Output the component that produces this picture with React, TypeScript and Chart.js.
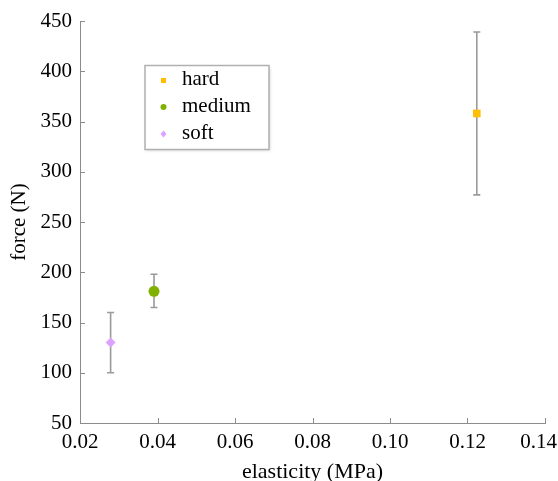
import React, { useEffect, useRef } from "react";
import { Chart, registerables } from "chart.js";

Chart.register(...registerables);

const categories = ["hard", "medium", "soft"];
const elasticity = [0.1224, 0.0391, 0.0279];
const force = [358, 181, 130];
const forceLow = [277, 165, 100];
const forceHigh = [439, 198, 160];
const colors = ["#FFBE00", "#80B000", "#DDA2FF"];
const pointStyles = ["rect", "circle", "rectRot"];
const pointRadii = [5.4, 5.5, 5];
const xTicks = [0.02, 0.04, 0.06, 0.08, 0.1, 0.12, 0.14];
const yTicks = [50, 100, 150, 200, 250, 300, 350, 400, 450];

const FONT = "'Liberation Serif', 'Times New Roman', serif";
const AXIS_GRAY = "#8c8c8c";

const errorBarPlugin = {
  id: "errorBars",
  beforeDatasetsDraw(chart: any) {
    const ctx = chart.ctx;
    const xs = chart.scales.x;
    const ys = chart.scales.y;
    ctx.save();
    ctx.strokeStyle = "#9a9a9a";
    ctx.lineWidth = 1.6;
    for (let i = 0; i < categories.length; i++) {
      const px = xs.getPixelForValue(elasticity[i]);
      const top = ys.getPixelForValue(forceHigh[i]);
      const bot = ys.getPixelForValue(forceLow[i]);
      ctx.beginPath();
      ctx.moveTo(px, top);
      ctx.lineTo(px, bot);
      ctx.moveTo(px - 3.5, top);
      ctx.lineTo(px + 3.5, top);
      ctx.moveTo(px - 3.5, bot);
      ctx.lineTo(px + 3.5, bot);
      ctx.stroke();
    }
    ctx.restore();
  },
};

const tickMarkPlugin = {
  id: "innerTicks",
  afterDraw(chart: any) {
    const ctx = chart.ctx;
    const xs = chart.scales.x;
    const ys = chart.scales.y;
    const area = chart.chartArea;
    ctx.save();
    ctx.strokeStyle = AXIS_GRAY;
    ctx.lineWidth = 1;
    ctx.beginPath();
    xs.ticks.forEach((t: any) => {
      const px = Math.round(xs.getPixelForValue(t.value)) + 0.5;
      ctx.moveTo(px, area.bottom);
      ctx.lineTo(px, area.bottom - 5);
    });
    ys.ticks.forEach((t: any) => {
      const py = Math.round(ys.getPixelForValue(t.value)) + 0.5;
      ctx.moveTo(area.left, py);
      ctx.lineTo(area.left + 5, py);
    });
    ctx.stroke();
    // x tick labels, kept inside the canvas
    ctx.font = `21px ${FONT}`;
    ctx.fillStyle = "#000";
    ctx.textBaseline = "top";
    ctx.textAlign = "left";
    xs.ticks.forEach((t: any) => {
      const label = Number(t.value).toFixed(2);
      const w = ctx.measureText(label).width;
      let lx = xs.getPixelForValue(t.value) - w / 2;
      if (lx + w > chart.width - 1) lx = chart.width - 1 - w;
      ctx.fillText(label, lx, area.bottom + 9);
    });
    ctx.restore();
  },
};

const legendPlugin = {
  id: "boxLegend",
  afterDraw(chart: any) {
    const ctx = chart.ctx;
    const bx = 145, by = 65.5, bw = 124, bh = 84;
    ctx.save();
    ctx.shadowColor = "rgba(0,0,0,0.18)";
    ctx.shadowBlur = 3;
    ctx.shadowOffsetX = 1;
    ctx.shadowOffsetY = 1;
    ctx.fillStyle = "#ffffff";
    ctx.fillRect(bx, by, bw, bh);
    ctx.shadowColor = "transparent";
    ctx.strokeStyle = "#b0b0b0";
    ctx.lineWidth = 1.5;
    ctx.strokeRect(bx, by, bw, bh);
    ctx.font = `21px ${FONT}`;
    ctx.textBaseline = "middle";
    ctx.fillStyle = "#000";
    const rows = [80.5, 107, 134];
    categories.forEach((c, i) => {
      const mx = 163.5, my = rows[i];
      ctx.fillStyle = colors[i];
      ctx.beginPath();
      if (pointStyles[i] === "rect") {
        ctx.rect(mx - 2.5, my - 2.5, 5, 5);
      } else if (pointStyles[i] === "circle") {
        ctx.arc(mx, my, 3, 0, Math.PI * 2);
      } else {
        ctx.moveTo(mx, my - 3.5);
        ctx.lineTo(mx + 3, my);
        ctx.lineTo(mx, my + 3.5);
        ctx.lineTo(mx - 3, my);
        ctx.closePath();
      }
      ctx.fill();
      ctx.fillStyle = "#000";
      ctx.fillText(c, 182, my - 1);
    });
    ctx.restore();
  },
};

export default function App() {
  const canvasRef = useRef<HTMLCanvasElement | null>(null);

  useEffect(() => {
    if (!canvasRef.current) return;
    const datasets = categories.map((c, i) => ({
      label: c,
      data: [{ x: elasticity[i], y: force[i] }],
      backgroundColor: colors[i],
      borderColor: colors[i],
      borderWidth: 0,
      pointStyle: pointStyles[i],
      pointRadius: pointRadii[i],
      showLine: false,
    }));
    const chart = new Chart(canvasRef.current, {
      type: "scatter",
      data: { datasets },
      options: {
        animation: false,
        responsive: false,
        layout: { padding: 0 },
        plugins: {
          legend: { display: false },
          tooltip: { enabled: false },
        },
        scales: {
          x: {
            type: "linear",
            min: 0.02,
            max: 0.14,
            afterBuildTicks: (s: any) => {
              s.ticks = xTicks.map((v) => ({ value: v }));
            },
            afterFit: (s: any) => {
              s.height = 58;
              s.paddingRight = 13;
              s.paddingLeft = 0;
            },
            grid: { display: false, drawTicks: false },
            border: { display: true, color: AXIS_GRAY, width: 1 },
            ticks: {
              font: { family: FONT, size: 21 },
              color: "rgba(0,0,0,0)",
              padding: 8,
              maxRotation: 0,
              autoSkip: false,
              callback: (v: any) => Number(v).toFixed(2),
            },
            title: {
              display: true,
              text: "elasticity (MPa)",
              font: { family: FONT, size: 22 },
              color: "#000",
              padding: { top: 2, bottom: -4 },
            },
          },
          y: {
            type: "linear",
            min: 50,
            max: 450,
            afterBuildTicks: (s: any) => {
              s.ticks = yTicks.map((v) => ({ value: v }));
            },
            afterFit: (s: any) => {
              s.width = 80;
              s.paddingTop = 21;
            },
            grid: { display: false, drawTicks: false },
            border: { display: true, color: AXIS_GRAY, width: 1 },
            ticks: {
              font: { family: FONT, size: 21 },
              color: "#000",
              padding: 8,
              autoSkip: false,
              callback: (v: any) => String(v),
            },
            title: {
              display: true,
              text: "force (N)",
              font: { family: FONT, size: 21 },
              color: "#000",
              padding: { top: 7, bottom: 4 },
            },
          },
        },
      } as any,
      plugins: [errorBarPlugin, tickMarkPlugin, legendPlugin],
    });
    return () => chart.destroy();
  }, []);

  return (
    <div style={{ position: "fixed", left: 0, top: 0, width: 558, height: 481, background: "#fff" }}>
      <canvas ref={canvasRef} width={558} height={481} style={{ width: 558, height: 481 }} />
    </div>
  );
}
